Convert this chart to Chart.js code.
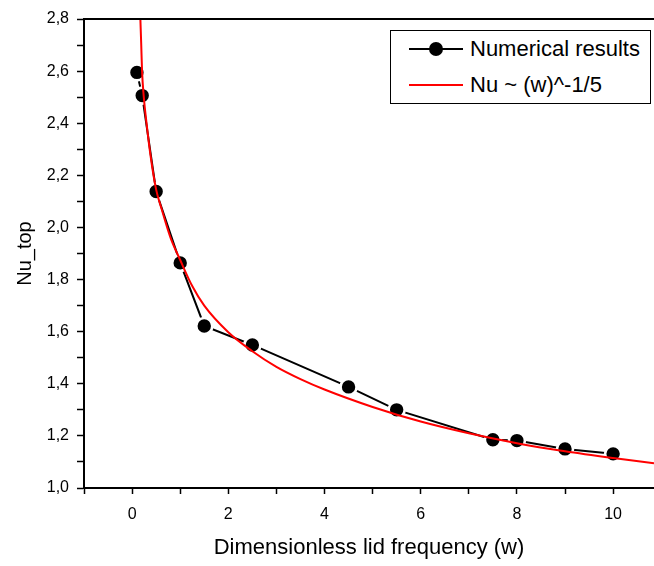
<!DOCTYPE html>
<html>
<head>
<meta charset="utf-8">
<script src="https://cdn.jsdelivr.net/npm/chart.js@4"></script>
<style>
  html, body { margin: 0; padding: 0; background: #fff; }
  #wrap { position: relative; width: 654px; height: 566px; }
  #legend {
    position: absolute; left: 390px; top: 30px; width: 261px; height: 74px;
    border: 1.5px solid #000; background: #fff; box-sizing: border-box;
    font-family: "Liberation Sans", Arial, sans-serif; font-size: 22px; color: #000;
  }
  .row { position: absolute; left: 0; height: 30px; display: flex; align-items: center; white-space: nowrap; }
  .sym { position: relative; width: 54px; height: 30px; margin-left: 18px; margin-right: 7px; }
  .sym .ln { position: absolute; left: 0; right: 0; top: 14px; height: 2px; }
  .sym .dot { position: absolute; left: 20px; top: 8px; width: 14px; height: 14px; border-radius: 50%; background: #000; }
</style>
</head>
<body>
<div id="wrap">
  <canvas id="c" width="654" height="566"></canvas>
  <div id="legend">
    <div class="row" style="top:3px"><div class="sym"><div class="ln" style="background:#000"></div><div class="dot"></div></div><span>Numerical results</span></div>
    <div class="row" style="top:39px"><div class="sym"><div class="ln" style="background:#f00"></div></div><span>Nu ~ (w)^-1/5</span></div>
  </div>
</div>
<script>
// Numerical results
const numW  = [0.1, 0.21, 0.5, 1.0, 1.5, 2.5, 4.5, 5.5, 7.5, 8.0, 9.0, 10.0];
const numNu = [2.595, 2.506, 2.138, 1.864, 1.622, 1.549, 1.388, 1.300, 1.185, 1.182, 1.150, 1.131];

// Red fit curve Nu ~ (w)^-1/5
const fitW  = [0.172, 0.19, 0.207, 0.241, 0.30, 0.38, 0.50, 0.62, 0.80, 1.00, 1.25, 1.5, 2.0, 2.5, 3.0, 3.5, 4.0, 5.0, 6.0, 7.0, 8.0, 9.0, 10.0, 10.85];
const fitNu = [2.80, 2.70, 2.60, 2.505, 2.40, 2.28, 2.145, 2.067, 1.96, 1.875, 1.775, 1.70, 1.598, 1.525, 1.465, 1.418, 1.378, 1.311, 1.255, 1.210, 1.172, 1.141, 1.115, 1.095];

// Axis settings
const xTickValues = [-1, 0, 1, 2, 3, 4, 5, 6, 7, 8, 9, 10];
const xMin = -1, xMax = 10.85;
const yMin = 1.0, yMax = 2.8;
const xTitle = "Dimensionless lid frequency (w)";
const yTitle = "Nu_top";
const legendLabels = ["Numerical results", "Nu ~ (w)^-1/5"];

const FONT = '"Liberation Sans", Arial, sans-serif';

const topBorder = {
  id: 'topBorder',
  afterDraw(chart) {
    const {ctx, chartArea} = chart;
    ctx.save();
    ctx.strokeStyle = '#000';
    ctx.lineWidth = 2;
    ctx.beginPath();
    ctx.moveTo(chartArea.left - 1, chartArea.top);
    ctx.lineTo(chart.width, chartArea.top);
    ctx.stroke();
    ctx.restore();
  }
};

new Chart(document.getElementById('c'), {
  type: 'scatter',
  data: {
    datasets: [
      {
        label: legendLabels[1],
        data: fitW.map((w, i) => ({x: w, y: fitNu[i]})),
        showLine: true,
        borderColor: '#ff0000',
        borderWidth: 2,
        pointRadius: 0,
        cubicInterpolationMode: 'monotone',
        fill: false
      },
      {
        label: legendLabels[0],
        data: numW.map((w, i) => ({x: w, y: numNu[i]})),
        showLine: true,
        borderColor: '#000',
        borderWidth: 2,
        pointRadius: 8,
        pointBackgroundColor: '#000',
        pointBorderColor: '#fff',
        pointBorderWidth: 2.6,
        fill: false
      }
    ]
  },
  options: {
    responsive: false,
    animation: false,
    events: [],
    layout: { autoPadding: false, padding: { top: 19, right: 0, left: 0, bottom: 0 } },
    plugins: { legend: { display: false }, tooltip: { enabled: false } },
    scales: {
      x: {
        type: 'linear',
        min: xMin, max: xMax,
        afterBuildTicks(scale) { scale.ticks = xTickValues.map(v => ({value: v})); },
        afterFit(scale) { scale.height = 78; scale.paddingRight = 0; scale.paddingLeft = 0; },
        border: { display: true, color: '#000', width: 2 },
        grid: { drawOnChartArea: false, drawTicks: true, tickLength: 6, color: '#000', tickColor: '#000', tickWidth: 1.5 },
        ticks: {
          color: '#000', font: { family: FONT, size: 16 }, padding: 11, maxRotation: 0, autoSkip: false,
          callback: (v) => (Math.round(v) % 2 === 0 ? String(Math.round(v)) : '')
        },
        title: { display: true, text: xTitle, color: '#000', font: { family: FONT, size: 22 }, padding: { top: 0, bottom: 5 } }
      },
      y: {
        type: 'linear',
        min: yMin, max: yMax,
        afterFit(scale) { scale.width = 84; scale.paddingTop = 0; scale.paddingBottom = 0; },
        border: { display: true, color: '#000', width: 2 },
        grid: { drawOnChartArea: false, drawTicks: true, tickLength: 7, color: '#000', tickColor: '#000', tickWidth: 1.5 },
        ticks: {
          stepSize: 0.1, color: '#000', font: { family: FONT, size: 16 }, padding: 8, autoSkip: false,
          callback: (v) => { const k = Math.round(v * 10); return k % 2 === 0 ? (k / 10).toFixed(1).replace('.', ',') : ''; }
        },
        title: { display: true, text: yTitle, color: '#000', font: { family: FONT, size: 20 }, padding: { top: 13, bottom: 0 } }
      }
    }
  },
  plugins: [topBorder]
});
</script>
</body>
</html>
